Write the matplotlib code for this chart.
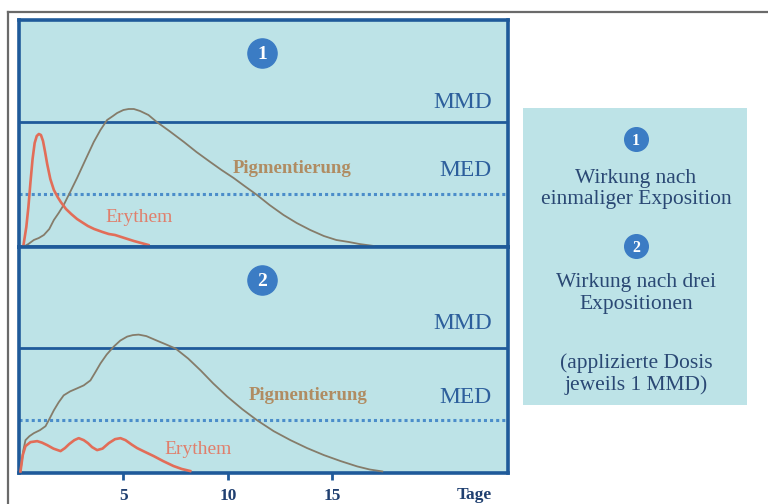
import matplotlib
matplotlib.use("Agg")
import matplotlib.pyplot as plt
from matplotlib.lines import Line2D
from matplotlib.patches import Rectangle
import matplotlib.transforms as mtransforms

# ---------------- data (days, relative effect units) ----------------
days_pig1 = [0.2, 0.45, 0.71, 0.95, 1.19, 1.45, 1.67, 1.9, 2.14, 2.45, 2.78, 3.2, 3.58, 3.9, 4.22,
             4.5, 4.7, 5.0, 5.25, 5.5, 5.8, 6.2, 6.6, 7.2, 7.9, 8.5, 9.16, 9.7, 10.28, 10.8,
             11.4, 12.0, 12.67, 13.3, 13.95, 14.6, 15.2, 15.8, 16.3, 17.0]
pig1 = [0, 3, 7, 9, 12, 18, 27, 34, 42, 55, 69, 88, 105, 117, 127,
        131, 134, 137, 138, 138, 136, 132, 125, 116, 105, 95, 85, 77, 69, 61,
        52, 42, 32, 24, 17, 11, 7, 5, 3, 1]

days_ery1 = [0.2, 0.35, 0.45, 0.55, 0.65, 0.75, 0.85, 0.95, 1.05, 1.15, 1.25, 1.35, 1.5, 1.67,
             1.85, 2.0, 2.25, 2.5, 2.78, 3.0, 3.3, 3.6, 4.0, 4.3, 4.6, 4.9, 5.2, 5.5, 5.85, 6.2]
ery1 = [0, 20, 40, 65, 88, 104, 111, 113, 112, 106, 95, 83, 68, 57,
        50, 45, 38, 33, 28, 25, 21, 18, 15, 13, 12, 10, 8, 6, 4, 2]

days_pig2 = [0.07, 0.2, 0.31, 0.5, 0.71, 1.0, 1.27, 1.45, 1.67, 1.9, 2.14, 2.45, 2.78, 3.1, 3.42,
             3.65, 3.9, 4.2, 4.54, 4.85, 5.18, 5.45, 5.73, 6.1, 6.6, 7.0, 7.5, 8.1, 8.7, 9.3,
             9.96, 10.7, 11.4, 12.2, 13.0, 13.8, 14.6, 15.4, 16.2, 16.8, 17.4]
pig2 = [1.6, 22, 33, 37, 40, 43, 47, 54, 63, 71, 78, 82, 85, 88, 93,
        101, 110, 119, 127, 133, 137, 138.5, 139, 137.5, 133, 129.5, 125, 115, 103, 90,
        77, 64, 53, 42, 33, 25, 18, 12, 6.6, 3.5, 1.6]

days_ery2 = [0.07, 0.18, 0.31, 0.55, 0.87, 1.1, 1.35, 1.65, 1.99, 2.2, 2.4, 2.65, 2.86, 3.1,
             3.3, 3.5, 3.74, 4.0, 4.3, 4.6, 4.86, 5.1, 5.4, 5.66, 6.0, 6.45, 6.9, 7.4, 7.8, 8.2]
ery2 = [1.6, 18, 27, 31, 32, 30.5, 28, 24.5, 22, 25, 29, 33, 35, 33,
        30, 26, 23, 24.5, 30, 34, 35, 33, 28.5, 25, 21.5, 17, 12, 7, 4, 2]

MED = 53
MMD = 125.5
xticks = [5, 10, 15]
xtick_labels = ["5", "10", "15"]
panel_numbers = ["1", "2"]
legend_lines = ["1", "Wirkung nach", "einmaliger Exposition",
                "2", "Wirkung nach drei", "Expositionen",
                "(applizierte Dosis", "jeweils 1 MMD)"]

# ---------------- style ----------------
W, H = 768, 504
BG = "#bde3e7"
DARK = "#1f5a9a"
DOT = "#4b8dca"
TXTBLUE = "#2d5f9c"
PIG = "#857c6a"
PIGTXT = "#b08c62"
ERY = "#e26d58"
ERYTXT = "#e07f6c"
CIRC = "#3b7cc4"
LEGTXT = "#2a4874"
SERIF = ["Liberation Serif", "DejaVu Serif"]

fig = plt.figure(figsize=(W / 100, H / 100), dpi=100)
fig.patch.set_facecolor("white")

# outer gray frame (left and top visible)
fig.add_artist(Line2D([7.5 / W, 7.5 / W], [0, 1 - 11.5 / H], color="#6a6a6a", lw=1.6,
                      transform=fig.transFigure))
fig.add_artist(Line2D([7.5 / W, 1], [1 - 11.5 / H, 1 - 11.5 / H], color="#6a6a6a", lw=1.6,
                      transform=fig.transFigure))

def fig_rect(x0, y0, x1, y1):
    return [x0 / W, 1 - y1 / H, (x1 - x0) / W, (y1 - y0) / H]

ax1 = fig.add_axes(fig_rect(19, 20, 508, 247))
ax2 = fig.add_axes(fig_rect(19, 247, 508, 473))

# (axes, pig x, pig y, ery x, ery y, circle pos, Pigmentierung pos, Erythem pos, MMD y, MED y)
panels = [(ax1, days_pig1, pig1, days_ery1, ery1, (0.497, 0.853), (0.559, 0.344), (0.245, 0.128),
           0.635, 0.339),
          (ax2, days_pig2, pig2, days_ery2, ery2, (0.497, 0.853), (0.591, 0.341), (0.366, 0.106),
           0.66, 0.332)]

for i, (ax, dp, p, de, e, cpos, ptpos, etpos, mmdy, medy) in enumerate(panels):
    ax.set_facecolor(BG)
    ax.set_xlim(0, 23.42)
    ax.set_ylim(0, 227)
    for s in ax.spines.values():
        s.set_color(DARK)
        s.set_linewidth(2.6)
    ax.axhline(MMD, color=DARK, lw=2.0, zorder=2)
    ax.axhline(MED, color=DOT, lw=2.2, ls=(0, (1, 1)), zorder=2)
    ax.plot(dp, p, color=PIG, lw=1.3, zorder=3)
    ax.plot(de, e, color=ERY, lw=1.9, zorder=3)
    ax.text(0.967, mmdy, "MMD", transform=ax.transAxes, ha="right", va="center",
            fontsize=17, color=TXTBLUE, family=SERIF)
    ax.text(0.967, medy, "MED", transform=ax.transAxes, ha="right", va="center",
            fontsize=17, color=TXTBLUE, family=SERIF)
    ax.text(ptpos[0], ptpos[1], "Pigmentierung", transform=ax.transAxes, ha="center",
            va="center", fontsize=13.5, color=PIGTXT, family=SERIF, fontweight="bold")
    ax.text(etpos[0], etpos[1], "Erythem", transform=ax.transAxes, ha="center", va="center",
            fontsize=14, color=ERYTXT, family=SERIF)
    ax.plot([cpos[0]], [cpos[1]], "o", ms=21, color=CIRC, transform=ax.transAxes, zorder=4)
    ax.text(cpos[0], cpos[1] - 0.005, panel_numbers[i], transform=ax.transAxes, ha="center",
            va="center", fontsize=14, color="white", fontweight="bold", family=SERIF, zorder=5)
    ax.set_yticks([])

ax1.set_xticks([])
ax2.set_xticks(xticks)
ax2.set_xticklabels(xtick_labels, family=SERIF, fontweight="bold", fontsize=12.5,
                    color="#1f3f70")
ax2.tick_params(axis="x", direction="out", length=5, width=2, color=DARK, pad=6)
trans = mtransforms.blended_transform_factory(ax2.transData, ax2.transAxes)
ax2.text(21.8, -0.097, "Tage", transform=trans, ha="center", va="center", fontsize=12.5,
         fontweight="bold", color="#1f3f70", family=SERIF)

# legend box
fig.add_artist(Rectangle((523 / W, 1 - 405 / H), (747 - 523) / W, (405 - 108) / H,
                         facecolor=BG, edgecolor="none", transform=fig.transFigure))
cx = 636 / W
leg_y = [139, 178, 200, 246, 283, 305, 363, 385]
for txt, y in zip(legend_lines, leg_y):
    fy = 1 - y / H
    if txt in ("1", "2"):
        fig.add_artist(Line2D([cx], [fy], marker="o", ms=17, color=CIRC,
                              transform=fig.transFigure))
        fig.text(cx, fy - 0.003, txt, ha="center", va="center", fontsize=11.5, color="white",
                 fontweight="bold", family=SERIF)
    else:
        fig.text(cx, fy, txt, ha="center", va="center", fontsize=15.5, color=LEGTXT,
                 family=SERIF)

fig.savefig("out.png", dpi=100, facecolor="white")
